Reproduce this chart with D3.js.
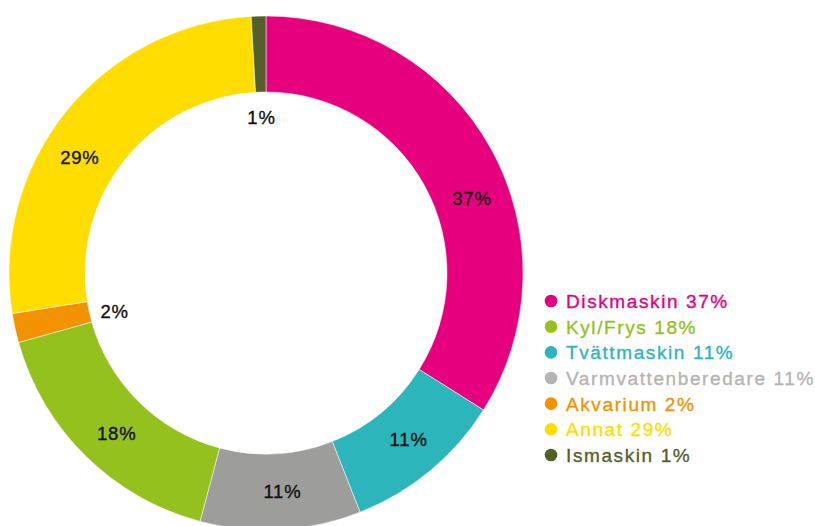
<!DOCTYPE html>
<html lang="sv">
<head>
<meta charset="UTF-8">
<title>Fördelning</title>
<script src="https://d3js.org/d3.v7.min.js"></script>
<style>
  body { margin: 0; background: #fff; }
  text { font-family: "Liberation Sans", Arial, Helvetica, sans-serif; }
  .slice-label { font-size: 18.5px; fill: #111; stroke: #111; stroke-width: 0.35px; letter-spacing: 0.8px; }
  .legend-label { font-size: 19px; letter-spacing: 1.6px; stroke-width: 0.35px; }
</style>
</head>
<body>
<svg width="815" height="526"></svg>
<script>
  // data, in the order the slices run clockwise from 12 o'clock
  const categories = ["Diskmaskin", "Tvättmaskin", "Varmvattenberedare", "Kyl/Frys", "Akvarium", "Annat", "Ismaskin"];
  const values = [37, 11, 11, 18, 2, 29, 1];
  const sliceColors = ["#e6007e", "#2cb5bb", "#9d9d9c", "#95c11f", "#f39200", "#ffdd00", "#545f2a"];
  // the percent labels don't sit exactly at mid-angle in the original (degrees)
  const labelNudge = [9, -1, -1, -1.6, -1.7, -7, 0];

  // legend order differs from the slice order
  const legendOrder = ["Diskmaskin", "Kyl/Frys", "Tvättmaskin", "Varmvattenberedare", "Akvarium", "Annat", "Ismaskin"];
  const legendColors = {"Varmvattenberedare": "#b4b4b4"};

  const slices = categories.map((c, i) => ({ name: c, value: values[i], color: sliceColors[i], nudge: labelNudge[i] }));

  const svg = d3.select("svg");
  const cx = 266, cy = 273;
  const outerR = 257, innerR = 181;

  const pie = d3.pie().sort(null).value(d => d.value);
  const arc = d3.arc().innerRadius(innerR).outerRadius(outerR);
  const labelArc = d3.arc().innerRadius(219).outerRadius(219);
  const smallLabelArc = d3.arc().innerRadius(156).outerRadius(156); // tiny slices get their label inside the hole

  const g = svg.append("g").attr("transform", `translate(${cx},${cy})`);
  const arcs = pie(slices);

  g.selectAll("path")
    .data(arcs)
    .enter().append("path")
    .attr("d", arc)
    .attr("fill", d => d.data.color)
    .attr("stroke", "#fff")
    .attr("stroke-width", 0.5);

  g.selectAll(".slice-label")
    .data(arcs)
    .enter().append("text")
    .attr("class", "slice-label")
    .attr("transform", d => {
      const shift = d.data.nudge * Math.PI / 180;
      const a = { startAngle: d.startAngle + shift, endAngle: d.endAngle + shift };
      const p = (d.data.value < 5 ? smallLabelArc : labelArc).centroid(a);
      return `translate(${p[0]},${p[1]})`;
    })
    .attr("text-anchor", "middle")
    .attr("dy", "0.36em")
    .text(d => d.data.value + "%");

  // legend
  const legend = svg.append("g").attr("transform", "translate(551,301)");
  const rowY = d3.scalePoint().domain(legendOrder).range([0, 154]);

  const rows = legend.selectAll(".row")
    .data(legendOrder.map(n => slices.find(s => s.name === n)))
    .enter().append("g")
    .attr("class", "row")
    .attr("transform", d => `translate(0,${rowY(d.name)})`);

  rows.append("circle")
    .attr("r", 6.3)
    .attr("fill", d => legendColors[d.name] || d.color);

  rows.append("text")
    .attr("class", "legend-label")
    .attr("x", 15)
    .attr("dy", "0.36em")
    .attr("fill", d => legendColors[d.name] || d.color)
    .attr("stroke", d => legendColors[d.name] || d.color)
    .text(d => `${d.name} ${d.value}%`);
</script>
</body>
</html>
